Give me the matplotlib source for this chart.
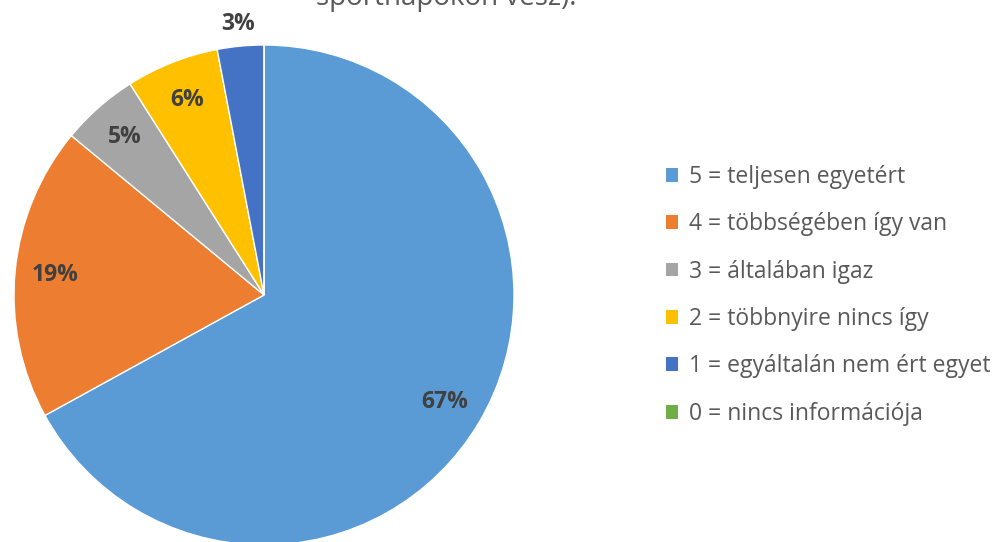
import numpy as np
import matplotlib
matplotlib.use("Agg")
import matplotlib.pyplot as plt
from matplotlib.patches import Patch

labels = ["5 = teljesen egyetért", "4 = többségében így van", "3 = általában igaz",
          "2 = többnyire nincs így", "1 = egyáltalán nem ért egyet", "0 = nincs információja"]
values = [67, 19, 5, 6, 3, 0]
colors = ["#5B9BD5", "#ED7D31", "#A5A5A5", "#FFC000", "#4472C4", "#70AD47"]
title_tail = "sportnapokon vesz)."

plt.rcParams['font.family'] = ['Open Sans', 'DejaVu Sans']

fig = plt.figure(figsize=(10, 5.42), dpi=100)
# pie box: 500x500 px, centre at (264, 295) from the top-left
ax = fig.add_axes([14 / 1000, -3 / 542, 500 / 1000, 500 / 542])

wedges, texts, autotexts = ax.pie(
    values, colors=colors, startangle=90, counterclock=False, radius=1,
    autopct=lambda p: f"{p:.0f}%" if p > 0.5 else "", pctdistance=0.84,
    wedgeprops=dict(edgecolor="white", linewidth=1),
    textprops=dict(fontsize=16.5, fontweight="bold", color="#404040"))
ax.set_xlim(-1, 1)
ax.set_ylim(-1, 1)
ax.set_aspect("auto")

# small slice label sits outside the pie
w = wedges[4]
mid = np.deg2rad((w.theta1 + w.theta2) / 2)
autotexts[4].set_position((1.09 * np.cos(mid), 1.09 * np.sin(mid)))

handles = [Patch(facecolor=c, edgecolor="none") for c in colors]
fig.legend(handles, labels, loc="center left", bbox_to_anchor=(0.645, 0.455),
           frameon=False, fontsize=16.5, labelcolor="#595959",
           handlelength=0.55, handleheight=0.55, handletextpad=0.45,
           labelspacing=1.02)

fig.text(0.446, 0.99, title_tail, ha="center", va="baseline",
         fontsize=20, color="#595959")

fig.savefig("out.png", dpi=100)
